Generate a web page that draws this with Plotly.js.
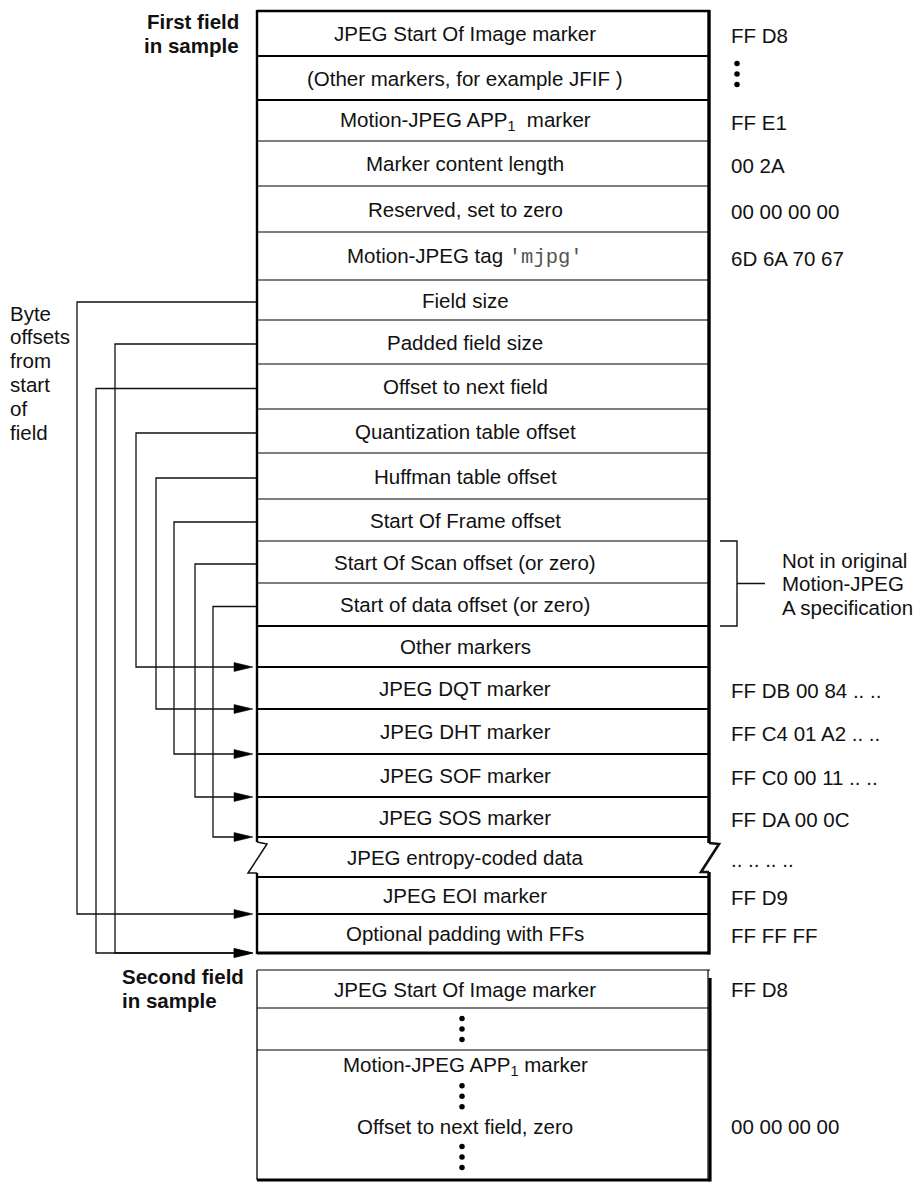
<!DOCTYPE html>
<html>
<head>
<meta charset="utf-8">
<script src="https://cdn.plot.ly/plotly-3.0.1.min.js"></script>
<style>html,body{margin:0;padding:0;background:#fff;}#chart{width:919px;height:1182px;}</style>
</head>
<body>
<div id="chart"></div>
<script>
// ---------- data ----------
const fieldRows = [
  "JPEG Start Of Image marker",
  "(Other markers, for example JFIF )",
  "Motion-JPEG APP<sub>1</sub>  marker",
  "Marker content length",
  "Reserved, set to zero",
  "Motion-JPEG tag <span style=\"font-family:'Liberation Mono',monospace;color:#555\">'mjpg'</span>",
  "Field size",
  "Padded field size",
  "Offset to next field",
  "Quantization table offset",
  "Huffman table offset",
  "Start Of Frame offset",
  "Start Of Scan offset (or zero)",
  "Start of data offset (or zero)",
  "Other markers",
  "JPEG DQT marker",
  "JPEG DHT marker",
  "JPEG SOF marker",
  "JPEG SOS marker",
  "JPEG entropy-coded data",
  "JPEG EOI marker",
  "Optional padding with FFs"
];
const fieldHex = [
  "FF D8", "⋮", "FF E1", "00 2A", "00 00 00 00", "6D 6A 70 67",
  "", "", "", "", "", "", "", "", "",
  "FF DB 00 84 .. ..", "FF C4 01 A2 .. ..", "FF C0 00 11 .. ..", "FF DA 00 0C",
  ".. .. .. ..", "FF D9", "FF FF FF"
];
const rowEdges = [11,56,100,141,186,232,280,320,364,409,453,499,541,583,626,667,709,754,797,837,877,914,953];
const breakRow = 19; // entropy-coded data row drawn with broken edges

const secondRows = ["JPEG Start Of Image marker", "⋮", "Motion-JPEG APP<sub>1</sub> marker", "⋮", "Offset to next field, zero", "⋮"];
const secondHex  = ["FF D8", "", "", "", "00 00 00 00", ""];
const secondEdges = [970,1008,1050,1180];

// offset pointers: from row -> to edge index, lane x
const pointerFrom = [6, 7, 8, 9, 10, 11, 12, 13];
const pointerTo   = [21, 22, 22, 15, 16, 17, 18, 19];
const pointerLane = [77, 115, 96, 136, 156, 174, 195, 213];

const sideNote = ["Byte", "offsets", "from", "start", "of", "field"];
const bracketNote = ["Not in original", "Motion-JPEG", "A specification"];
const bracketRows = [12, 13];

// ---------- layout helpers ----------
const X0 = 257, X1 = 708, TEXTX = 465, HEXX = 729;
const FONT = "Liberation Sans, Arial, Helvetica, sans-serif";
const FS = 20.5;
const shapes = [];
const ann = [];
const dotX = [], dotY = [];

function line(x0,y0,x1,y1,w,c){ shapes.push({type:'line',xref:'x',yref:'y',x0:x0,y0:y0,x1:x1,y1:y1,line:{color:c||'#000',width:w},layer:'above'}); }
function path(d,w,fill){ shapes.push({type:'path',xref:'x',yref:'y',path:d,line:{color:fill?'#000':'#111',width:w},fillcolor:fill?'#000':'rgba(0,0,0,0)',layer:'above'}); }
function text(t,x,y,opts){ opts=opts||{}; ann.push(Object.assign({text:t,x:x,y:y,xref:'x',yref:'y',showarrow:false,xanchor:'center',yanchor:'middle',font:{family:FONT,size:FS,color:'#111'}},opts)); }
function dots(x,yc){ [-10.5,0,10.5].forEach(d=>{dotX.push(x);dotY.push(yc+d);}); }

// first field box
const thick = i => (i<=2 || i>=14);
rowEdges.forEach((y,i)=>{
  let w = thick(i) ? 2.2 : 1.2;
  if(i===0) w = 2.6;
  if(i===rowEdges.length-1) w = 3.2;
  line(X0,y,X1+2,y,w);
});
const bTop = rowEdges[breakRow], bBot = rowEdges[breakRow+1];
line(X0, rowEdges[0]-1, X0, bTop+5, 2.4);
line(X0, bBot-4, X0, rowEdges[rowEdges.length-1]+1, 2.4);
line(X1+1, rowEdges[0]-1, X1+1, bTop+6, 3.4);
line(X1+1, bBot-5, X1+1, rowEdges[rowEdges.length-1]+1.5, 3.4);
path(`M${X0},${bTop+5} L${X0+10},${bTop+7} L${X0-9},${bBot-4} L${X0},${bBot-4}`,1.5);
path(`M${X1+1},${bTop+6} L${X1+11},${bTop+7} L${X1-7},${bBot-5} L${X1+1},${bBot-5}`,2.6);

fieldRows.forEach((t,i)=>{
  const yc=(rowEdges[i]+rowEdges[i+1])/2;
  text(t,TEXTX,yc);
  const h=fieldHex[i];
  if(h==="⋮") dots(HEXX+8, yc-4);
  else if(h) text(h,HEXX,yc+2,{xanchor:'left'});
});

// second field box
secondEdges.forEach((y,i)=>{
  const w = (i===secondEdges.length-1)?3.2:1.2;
  line(X0,y,X1+2,y,w);
});
line(X0, secondEdges[0], X0, secondEdges[secondEdges.length-1], 1.3);
line(X1, secondEdges[0], X1, secondEdges[secondEdges.length-1], 1.2);
line(X1+2, secondEdges[0]+8, X1+2, secondEdges[secondEdges.length-1]+1.5, 3.2);
secondRows.forEach((t,i)=>{
  let yc;
  if(i<2) yc=(secondEdges[i]+secondEdges[i+1])/2;
  else yc=secondEdges[2]+16+30.3*(i-2);
  if(t==="⋮") dots(TEXTX-3, yc); else text(t,TEXTX,yc);
  if(secondHex[i]) text(secondHex[i],HEXX,yc,{xanchor:'left'});
});

// pointers
pointerFrom.forEach((r,k)=>{
  const ys=(rowEdges[r]+rowEdges[r+1])/2+2;
  const yt=rowEdges[pointerTo[k]];
  const lx=pointerLane[k];
  path(`M${X0},${ys} H${lx} V${yt} H${X0-18}`,1.3);
  path(`M${X0-4},${yt} L${X0-23},${yt-4.5} L${X0-23},${yt+4.5} Z`,0.5,true);
});

// bracket
const by0=rowEdges[bracketRows[0]], by1=rowEdges[bracketRows[1]+1], bm=(by0+by1)/2;
path(`M${X1+12},${by0} H${X1+29} V${by1} H${X1+12} M${X1+29},${bm} H${X1+57}`,1.4);
bracketNote.forEach((t,i)=>text(t,780,bm+(i-1)*23.5,{xanchor:'left'}));

// side note
sideNote.forEach((t,i)=>text(t,8,313+i*23.8,{xanchor:'left'}));

// field titles
const bold = {family:FONT,size:FS,color:'#111',weight:'bold'};
text("<b>First field</b>",241,21,{xanchor:'right',font:bold});
text("<b>in sample</b>",241,45,{xanchor:'right',font:bold});
text("<b>Second field</b>",120,976,{xanchor:'left',font:bold});
text("<b>in sample</b>",120,1000,{xanchor:'left',font:bold});

const traces=[{type:'scatter',mode:'markers',x:dotX,y:dotY,marker:{color:'#000',size:5.5},hoverinfo:'skip',showlegend:false}];

const layout={
  width:919,height:1182,autosize:false,
  margin:{l:0,r:0,t:0,b:0,pad:0},
  paper_bgcolor:'#fff',plot_bgcolor:'#fff',
  xaxis:{range:[0,919],visible:false,fixedrange:true},
  yaxis:{range:[1182,0],visible:false,fixedrange:true},
  shapes:shapes,annotations:ann,showlegend:false
};
Plotly.newPlot('chart',traces,layout,{staticPlot:true,displayModeBar:false});
</script>
</body>
</html>
